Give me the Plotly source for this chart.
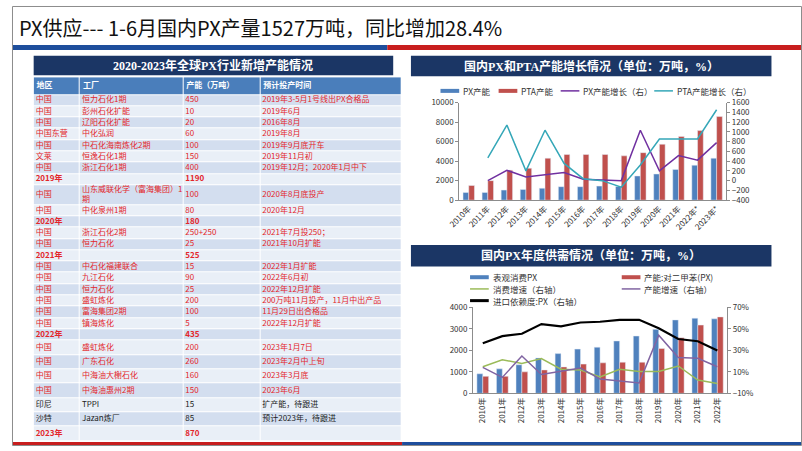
import plotly.graph_objects as go

# ---------------- table data ----------------
regions = ["中国", "中国", "中国", "中国东营", "中国", "文莱", "中国", "2019年",
           "中国", "中国", "2020年",
           "中国", "中国", "2021年",
           "中国", "中国", "中国", "中国", "中国", "中国", "2022年",
           "中国", "中国", "中国", "中国", "印尼", "沙特", "2023年"]
plants = ["恒力石化1期", "彭州石化扩能", "辽阳石化扩能", "中化弘润", "中石化海南炼化2期", "恒逸石化1期", "浙江石化1期", "",
          "山东威联化学（富海集团）1<br>期", "中化泉州1期", "",
          "浙江石化2期", "恒力石化", "",
          "中石化福建联合", "九江石化", "恒力石化", "盛虹炼化", "富海集团2期", "镇海炼化", "",
          "盛虹炼化", "广东石化", "中海油大榭石化", "中海油惠州2期", "TPPI", "Jazan炼厂", ""]
capacity = ["450", "10", "20", "60", "100", "150", "400", "1190",
            "100", "80", "180",
            "250+250", "25", "525",
            "15", "90", "25", "200", "100", "5", "435",
            "200", "260", "160", "150", "15", "85", "870"]
timing = ["2019年3-5月1号线出PX合格品", "2019年6月", "2016年8月", "2019年8月", "2019年9月底开车", "2019年11月初",
          "2019年12月；2020年1月中下", "",
          "2020年8月底投产", "2020年12月", "",
          "2021年7月投250；", "2021年10月扩能", "",
          "2022年1月扩能", "2022年6月初", "2022年12月扩能", "200万吨11月投产，11月中出产品", "11月29日出合格品",
          "2022年12月扩能", "",
          "2023年1月7日", "2023年2月中上旬", "2023年3月底", "2023年6月", "扩产能，待跟进", "预计2023年，待跟进", ""]
header = ["地区", "工厂", "产能（万吨）", "预计投产时间"]

# ---------------- chart 1 data ----------------
years1 = ["2010年", "2011年", "2012年", "2013年", "2014年", "2015年", "2016年", "2017年",
          "2018年", "2019年", "2020年", "2021年", "2022年*", "2023年*"]
px_cap = [780, 790, 1030, 1100, 1220, 1380, 1380, 1440, 1400, 2480, 2680, 3150, 3580, 4300]
pta_cap = [1500, 2000, 3070, 3270, 4300, 4680, 4680, 4680, 4540, 4870, 5730, 6530, 7130, 8570]
px_growth = [None, 0, 213, 73, 113, 167, 27, 7, 0, 1033, 200, 513, 420, 780]
pta_growth = [None, 467, 1140, 200, 1033, 353, 40, 0, -133, 320, 853, 853, 853, 1453]

# ---------------- chart 2 data ----------------
years2 = ["2010年", "2011年", "2012年", "2013年", "2014年", "2015年", "2016年", "2017年",
          "2018年", "2019年", "2020年", "2021年", "2022年"]
consumption = [910, 1140, 1330, 1650, 1850, 2060, 2150, 2440, 2670, 2980, 3420, 3500, 3470]
px_capacity = [790, 790, 1000, 1090, 1230, 1360, 1420, 1450, 1450, 2090, 2590, 3180, 3560]
cons_growth = [14.8, 21.2, 17.9, 22.4, 12.4, 11.8, 5.2, 12.4, 10.3, 10.3, 15.5, 2.4, -0.9]
cap_growth = [14.2, 4.8, 24.8, 7.6, 10.6, 13.6, 3.3, 1.2, -0.3, 44.2, 23.3, 22.7, 14.8]
import_dep = [36.7, 43.3, 45.5, 54.5, 52.4, 56.0, 56.7, 58.5, 58.5, 50.6, 40.6, 38.5, 30.0]

W, H = 802, 451
FONT = "Noto Sans CJK SC"
NAVY = "#1B3665"
BLUE = "#4F81BD"
RED = "#C0504D"
TXT_RED = "#E3262B"


def px(x):
    return x / W


def py(y):
    return 1 - y / H


fig = go.Figure()

# ---- table (heatmap cells + text on a hidden axis pair, 1 unit = 1 px) ----
n = len(regions)
subtotal = [p == "" for p in plants]
black_rows = [r in ("印尼", "沙特") for r in regions]
row_color = ["#222222" if b else TXT_RED for b in black_rows]

HEADER_H = 18
row_h = [20.4 if i == 8 else (14.7 if i >= 21 else 11.57) for i in range(n)]
edges = [0, HEADER_H]
for h in row_h:
    edges.append(edges[-1] + h)
centers = [(edges[i + 1] + edges[i + 2]) / 2 for i in range(n)]
col_w = [47, 105, 78, 144]
col_edges = [0]
for w in col_w:
    col_edges.append(col_edges[-1] + w)
TABLE_TOP = 73
total_h = edges[-1]

z = [[2] * 4] + [[i % 2] * 4 for i in range(n)]
fig.add_trace(go.Heatmap(z=z, x=col_edges, y=edges, zmin=0, zmax=2,
                         colorscale=[[0, "#D3DEEF"], [0.5, "#E9EFF7"], [1, "#4A7EBB"]],
                         showscale=False, xgap=1, ygap=1, hoverinfo="skip", xaxis="x3", yaxis="y5"))


def fmt(col):
    return [f"<b>{v}</b>" if s and v else v for v, s in zip(col, subtotal)]


fig.add_trace(go.Scatter(x=[c + 3 for c in col_edges[:-1]], y=[HEADER_H / 2] * 4, mode="text",
                         text=[f"<b>{h}</b>" for h in header], textposition="middle right",
                         textfont=dict(color="white", size=8, family=FONT),
                         hoverinfo="skip", showlegend=False, xaxis="x3", yaxis="y5"))
for j, col in enumerate([regions, plants, capacity, timing]):
    fig.add_trace(go.Scatter(x=[col_edges[j] + 2] * n, y=centers, mode="text", text=fmt(col),
                             textposition="middle right",
                             textfont=dict(color=row_color, size=8, family=FONT),
                             hoverinfo="skip", showlegend=False, xaxis="x3", yaxis="y5"))

# ---- chart 1 ----
fig.add_trace(go.Bar(x=years1, y=px_cap, name="PX产能", marker_color=BLUE, width=0.3, offset=-0.3,
                     xaxis="x", yaxis="y", showlegend=False))
fig.add_trace(go.Bar(x=years1, y=pta_cap, name="PTA产能", marker_color=RED, width=0.3, offset=0,
                     xaxis="x", yaxis="y", showlegend=False))
fig.add_trace(go.Scatter(x=years1, y=px_growth, name="PX产能增长（右）", mode="lines",
                         line=dict(color="#7030A0", width=1.5), xaxis="x", yaxis="y2", showlegend=False))
fig.add_trace(go.Scatter(x=years1, y=pta_growth, name="PTA产能增长（右）", mode="lines",
                         line=dict(color="#35A7B8", width=1.5), xaxis="x", yaxis="y2", showlegend=False))

# ---- chart 2 ----
fig.add_trace(go.Bar(x=years2, y=consumption, name="表观消费PX", marker_color=BLUE, width=0.3, offset=-0.3,
                     xaxis="x2", yaxis="y3", showlegend=False))
fig.add_trace(go.Bar(x=years2, y=px_capacity, name="产能:对二甲苯(PX)", marker_color=RED, width=0.3, offset=0,
                     xaxis="x2", yaxis="y3", showlegend=False))
fig.add_trace(go.Scatter(x=years2, y=cons_growth, name="消费增速（右轴）", mode="lines",
                         line=dict(color="#9BBB59", width=1.5), xaxis="x2", yaxis="y4", showlegend=False))
fig.add_trace(go.Scatter(x=years2, y=cap_growth, name="产能增速（右轴）", mode="lines",
                         line=dict(color="#8064A2", width=1.5), xaxis="x2", yaxis="y4", showlegend=False))
fig.add_trace(go.Scatter(x=years2, y=import_dep, name="进口依赖度:PX（右轴）", mode="lines",
                         line=dict(color="black", width=2.2), xaxis="x2", yaxis="y4", showlegend=False))

ax = dict(showgrid=False, zeroline=False, showline=True, linecolor="#8C8C8C", linewidth=1,
          ticks="outside", ticklen=3, tickcolor="#8C8C8C", tickfont=dict(size=8, color="#333", family=FONT))
xax = dict(ax, ticks="")

shapes = []
annotations = []

# frame, title strip, bottom strip
shapes.append(dict(type="rect", xref="paper", yref="paper", x0=px(0.5), x1=px(801.5), y0=py(450.5), y1=py(0.5),
                   line=dict(color="#8C8C8C", width=1)))
shapes.append(dict(type="rect", xref="paper", yref="paper", x0=px(1), x1=px(381), y0=py(45), y1=py(40),
                   fillcolor="#1E4E9C", line_width=0))
shapes.append(dict(type="rect", xref="paper", yref="paper", x0=px(381), x1=px(801), y0=py(45), y1=py(40),
                   fillcolor="#C81E1E", line_width=0))
shapes.append(dict(type="rect", xref="paper", yref="paper", x0=px(1), x1=px(396), y0=py(450), y1=py(447),
                   fillcolor="#C81E1E", line_width=0))
shapes.append(dict(type="rect", xref="paper", yref="paper", x0=px(396), x1=px(801), y0=py(450), y1=py(447),
                   fillcolor="#1E4E9C", line_width=0))
annotations.append(dict(text="PX供应--- 1-6月国内PX产量1527万吨，同比增加28.4%", xref="paper", yref="paper",
                        x=px(5), y=py(22), xanchor="left", yanchor="middle", showarrow=False,
                        font=dict(size=20, color="#111", family=FONT)))

# section title bars
for x0, x1, y0, y1, title in [(22, 387, 51, 71, "2020-2023年全球PX行业新增产能情况"),
                              (405, 771, 51, 72, "国内PX和PTA产能增长情况（单位：万吨，%）"),
                              (405, 771, 245, 267, "国内PX年度供需情况（单位：万吨，%）")]:
    shapes.append(dict(type="rect", xref="paper", yref="paper", x0=px(x0), x1=px(x1), y0=py(y1), y1=py(y0),
                       fillcolor=NAVY, line_width=0))
    annotations.append(dict(text=f"<b>{title}</b>", xref="paper", yref="paper", x=px((x0 + x1) / 2),
                            y=py((y0 + y1) / 2), xanchor="center", yanchor="middle", showarrow=False,
                            font=dict(size=12, color="white", family="Liberation Serif, " + FONT)))


def legend_key(x, y, text, color, kind):
    thick = {"bar": 4, "line": 1.5, "thick": 3}[kind]
    shapes.append(dict(type="line", xref="paper", yref="paper", x0=px(x), x1=px(x + 19), y0=py(y), y1=py(y),
                       line=dict(color=color, width=thick)))
    annotations.append(dict(text=text, xref="paper", yref="paper", x=px(x + 21), y=py(y), xanchor="left",
                            yanchor="middle", showarrow=False, font=dict(size=8.5, color="#333", family=FONT)))


legend_key(435, 87, "PX产能", BLUE, "bar")
legend_key(494, 87, "PTA产能", RED, "bar")
legend_key(557, 87, "PX产能增长（右）", "#7030A0", "line")
legend_key(652, 87, "PTA产能增长（右）", "#35A7B8", "line")

legend_key(465, 278, "表观消费PX", BLUE, "bar")
legend_key(619, 278, "产能:对二甲苯(PX)", RED, "bar")
legend_key(465, 290, "消费增速（右轴）", "#9BBB59", "line")
legend_key(619, 290, "产能增速（右轴）", "#8064A2", "line")
legend_key(465, 302, "进口依赖度:PX（右轴）", "black", "thick")

fig.update_layout(
    width=W, height=H, margin=dict(l=0, r=0, t=0, b=0),
    paper_bgcolor="white", plot_bgcolor="white", barmode="group",
    font=dict(family=FONT),
    xaxis=dict(xax, domain=[px(454), px(725)], anchor="y", tickangle=-45),
    yaxis=dict(ax, domain=[py(199), py(99)], anchor="x", range=[0, 10000], dtick=2000, tickformat="d"),
    yaxis2=dict(ax, overlaying="y", side="right", anchor="x", range=[-400, 1600], dtick=200, tickformat="d"),
    xaxis2=dict(xax, domain=[px(468), px(726)], anchor="y3", tickangle=-90),
    yaxis3=dict(ax, domain=[py(397), py(309)], anchor="x2", range=[0, 4000], dtick=1000, tickformat="d"),
    yaxis4=dict(ax, overlaying="y3", side="right", anchor="x2", range=[-10, 70], dtick=20, tick0=-10,
                ticksuffix="%"),
    xaxis3=dict(domain=[px(22), px(22 + col_edges[-1])], range=[0, col_edges[-1]], visible=False,
                fixedrange=True, anchor="y5"),
    yaxis5=dict(domain=[py(TABLE_TOP + total_h), py(TABLE_TOP)], range=[total_h, 0], visible=False,
                fixedrange=True, anchor="x3"),
    shapes=shapes, annotations=annotations,
)

fig.write_html("out.html", config={"displayModeBar": False},
               post_script="document.body.style.margin='0';")
